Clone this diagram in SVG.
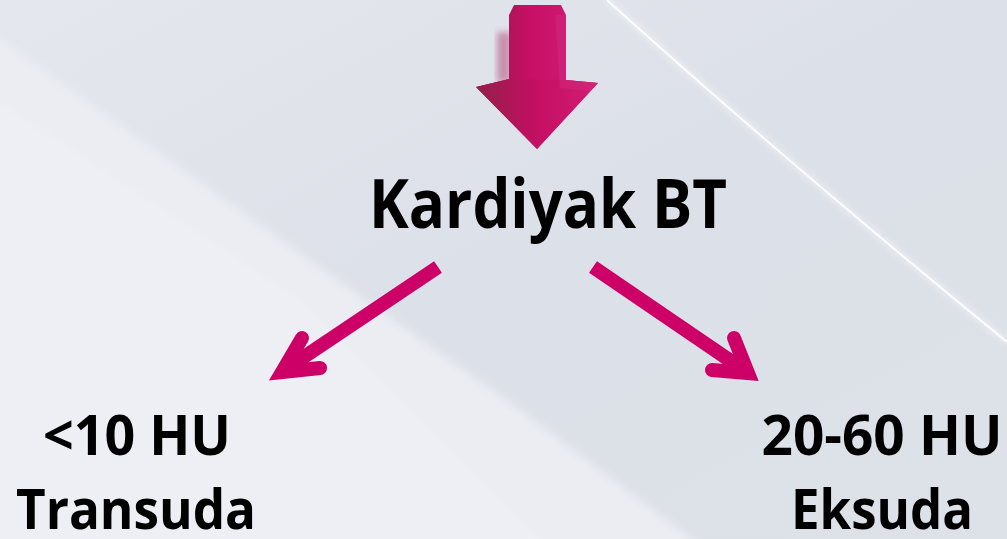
<svg xmlns="http://www.w3.org/2000/svg" width="1007" height="539" viewBox="0 0 1007 539">
<defs>
<linearGradient id="bg" x1="0" y1="0" x2="1" y2="1">
<stop offset="0" stop-color="#e4e7ee"/>
<stop offset="0.5" stop-color="#dce0e8"/>
<stop offset="1" stop-color="#dde1e8"/>
</linearGradient>
<linearGradient id="shaft" x1="0" y1="0" x2="1" y2="0">
<stop offset="0" stop-color="#8c1d45"/>
<stop offset="0.45" stop-color="#c80f66"/>
<stop offset="0.8" stop-color="#cf1a72"/>
<stop offset="1" stop-color="#c21767"/>
</linearGradient>
<linearGradient id="head" x1="0" y1="0" x2="1" y2="0">
<stop offset="0" stop-color="#931f4a"/>
<stop offset="0.5" stop-color="#c40f63"/>
<stop offset="1" stop-color="#d41c74"/>
</linearGradient>
<filter id="blur" x="-20%" y="-20%" width="140%" height="140%"><feGaussianBlur stdDeviation="3"/></filter>
<filter id="soft" x="-10%" y="-10%" width="120%" height="120%"><feGaussianBlur stdDeviation="5"/></filter>
</defs>
<style>
.t{font-family:"Open Sans","Liberation Sans",sans-serif;font-weight:bold;fill:#000}
.arr{fill:none;stroke:#cc0066;stroke-width:14}
</style>
<g id="background">
<rect width="1007" height="539" fill="url(#bg)"/>
<path d="M-20,25 L520,410 L720,560 L-20,560 Z" fill="#ebedf3" filter="url(#soft)"/>
<path d="M-20,90 L300,300 L560,560 L-20,560 Z" fill="#eff0f5" opacity="0.8" filter="url(#soft)"/>
<path d="M607,0 Q790,165 1007,342" fill="none" stroke="#ffffff" stroke-width="4" opacity="0.6" filter="url(#blur)"/>
<path d="M607,0 Q790,165 1007,342" fill="none" stroke="#ffffff" stroke-width="1.8" opacity="0.95"/>
</g>
<g id="top-arrow">
<rect x="497" y="32" width="14" height="50" fill="#b04070" opacity="0.5" filter="url(#blur)"/>
<path d="M509,15 L514,5 L561,5 L566,15 L566,80 L598,83 L537,149 L476,87 L509,79 Z" fill="url(#shaft)"/>
<path d="M476,87 L509,79 L566,80 L598,83 L537,149 Z" fill="url(#head)"/>
<path d="M555,15 L566,15 L566,80 L598,83 L590,91 L560,88 Z" fill="#d02a7a" opacity="0.5"/>
</g>
<g id="node-kardiyak">
<text class="t" x="548" y="228" font-size="68" text-anchor="middle" textLength="358" lengthAdjust="spacingAndGlyphs">Kardiyak BT</text>
</g>
<g id="node-transuda">
<text class="t" x="137" y="455" font-size="56" text-anchor="middle" textLength="188" lengthAdjust="spacingAndGlyphs">&lt;10 HU</text>
<text class="t" x="136" y="529" font-size="56" text-anchor="middle" textLength="240" lengthAdjust="spacingAndGlyphs">Transuda</text>
</g>
<g id="node-eksuda">
<text class="t" x="882" y="455" font-size="56" text-anchor="middle" textLength="241" lengthAdjust="spacingAndGlyphs">20-60 HU</text>
<text class="t" x="882" y="529" font-size="56" text-anchor="middle" textLength="182" lengthAdjust="spacingAndGlyphs">Eksuda</text>
</g>
<g id="connectors">
<line class="arr" x1="438" y1="267" x2="286" y2="369" stroke-linecap="butt"/>
<polyline class="arr" points="302,338 282,372 320,368" stroke-linecap="round" stroke-linejoin="miter" stroke-miterlimit="10"/>
<line class="arr" x1="593" y1="267" x2="744" y2="370" stroke-linecap="butt"/>
<polyline class="arr" points="734,338 748,373 712,370" stroke-linecap="round" stroke-linejoin="miter" stroke-miterlimit="10"/>
</g>
</svg>
